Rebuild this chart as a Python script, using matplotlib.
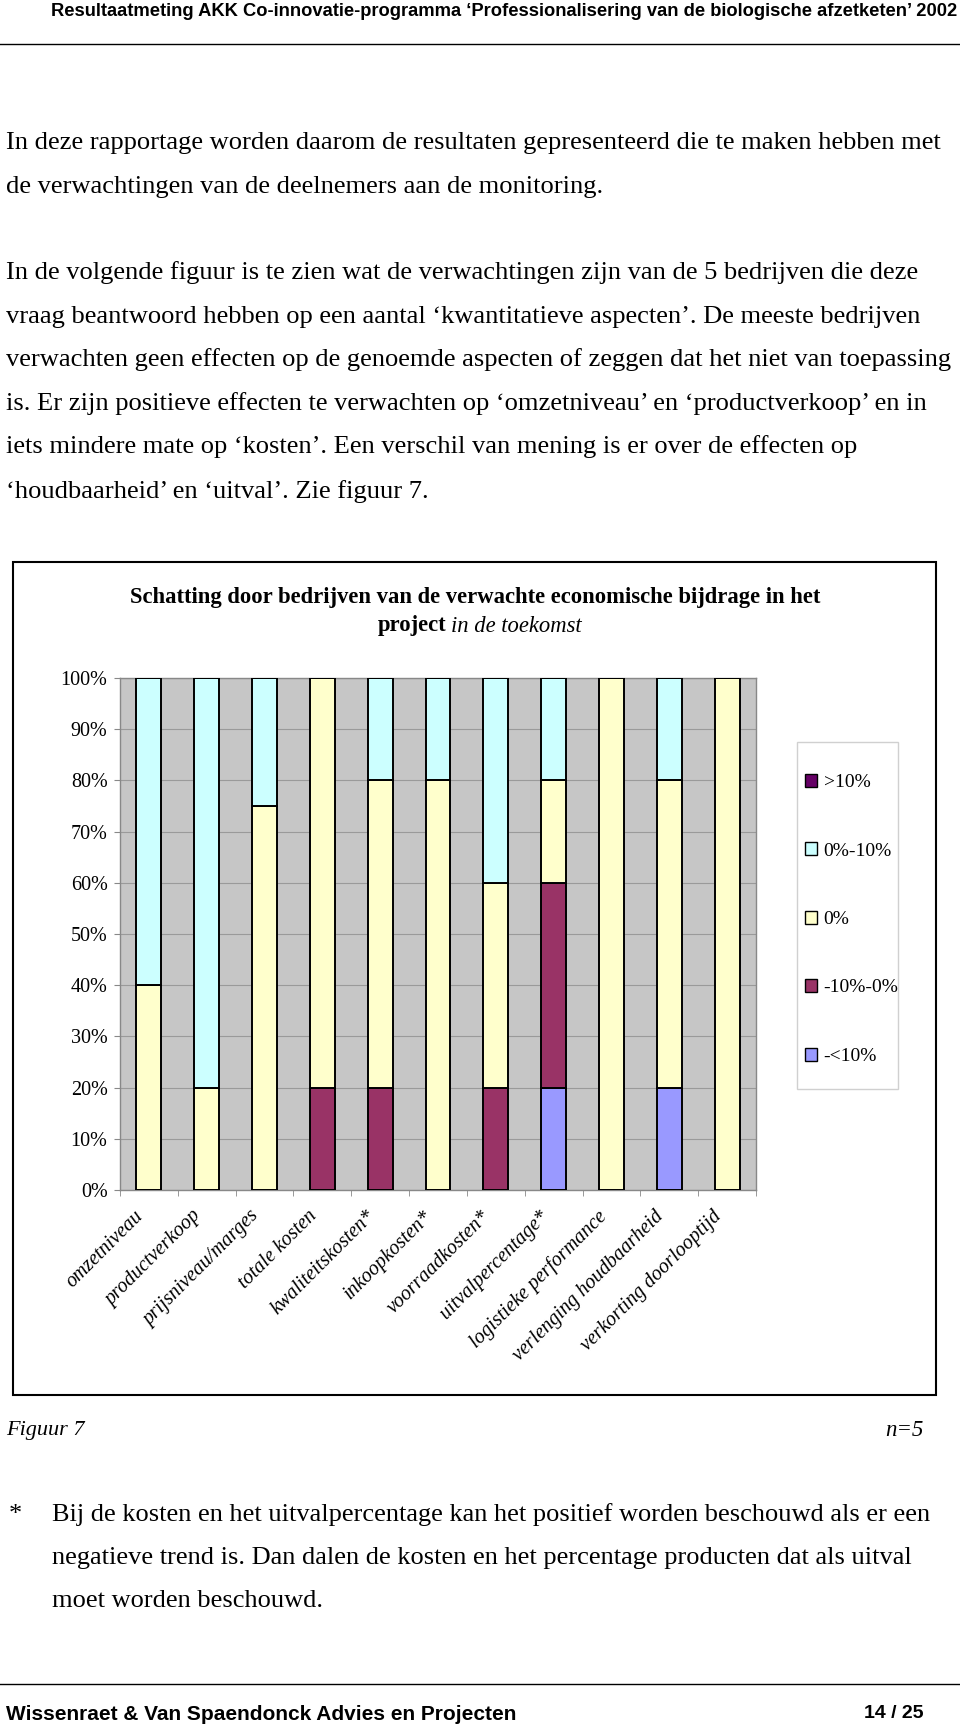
import numpy as np
import matplotlib
matplotlib.use('Agg')
import matplotlib.pyplot as plt
import matplotlib.transforms as mtransforms
from matplotlib.patches import Rectangle, Patch
from matplotlib.lines import Line2D

# --- data ---
categories = ['omzetniveau', 'productverkoop', 'prijsniveau/marges', 'totale kosten',
              'kwaliteitskosten*', 'inkoopkosten*', 'voorraadkosten*', 'uitvalpercentage*',
              'logistieke performance', 'verlenging houdbaarheid', 'verkorting doorlooptijd']
# stacked from bottom to top (percentage of companies)
min_meer10 = [0, 0, 0, 0, 0, 0, 0, 20, 0, 20, 0]      # -<10%
min10_0 = [0, 0, 0, 20, 20, 0, 20, 40, 0, 0, 0]       # -10%-0%
nul = [40, 20, 75, 80, 60, 80, 40, 20, 100, 60, 100]  # 0%
nul_10 = [60, 80, 25, 0, 20, 20, 40, 20, 0, 20, 0]    # 0%-10%
meer10 = [0, 0, 0, 0, 0, 0, 0, 0, 0, 0, 0]            # >10%

series_labels = ['-<10%', '-10%-0%', '0%', '0%-10%', '>10%']
series_colors = ['#9999FF', '#993366', '#FFFFCC', '#CCFFFF', '#660066']
y_ticks = [0, 10, 20, 30, 40, 50, 60, 70, 80, 90, 100]

SERIF = 'Liberation Serif'
SANS = 'Liberation Sans'

W, H = 960, 1729
fig = plt.figure(figsize=(W / 100, H / 100), dpi=100)


def fx(px):
    return px / W


def fy(py):
    return 1 - py / H


# --- page header ---
fig.text(fx(957), fy(12), 'Resultaatmeting AKK Co-innovatie-programma \u2018Professionalisering van de biologische afzetketen\u2019 2002',
         ha='right', va='center', family=SANS, fontweight='bold', fontsize=13.25)
fig.add_artist(Line2D([0, 1], [fy(44), fy(44)], color='black', lw=1))

# --- body text ---
body = [
    (143, 'In deze rapportage worden daarom de resultaten gepresenteerd die te maken hebben met'),
    (187, 'de verwachtingen van de deelnemers aan de monitoring.'),
    (273, 'In de volgende figuur is te zien wat de verwachtingen zijn van de 5 bedrijven die deze'),
    (317, 'vraag beantwoord hebben op een aantal \u2018kwantitatieve aspecten\u2019. De meeste bedrijven'),
    (360, 'verwachten geen effecten op de genoemde aspecten of zeggen dat het niet van toepassing'),
    (404, 'is. Er zijn positieve effecten te verwachten op \u2018omzetniveau\u2019 en \u2018productverkoop\u2019 en in'),
    (447, 'iets mindere mate op \u2018kosten\u2019. Een verschil van mening is er over de effecten op'),
    (492, '\u2018houdbaarheid\u2019 en \u2018uitval\u2019. Zie figuur 7.'),
]
for yy, line in body:
    fig.text(fx(6), fy(yy), line, ha='left', va='center', family=SERIF, fontsize=19.05)

# --- chart frame ---
fig.add_artist(Rectangle((fx(13), fy(1395)), fx(936) - fx(13), (1395 - 562) / H,
                         transform=fig.transFigure, fill=False, edgecolor='black', lw=1.5))

fig.text(fx(475), fy(598), 'Schatting door bedrijven van de verwachte economische bijdrage in het',
         ha='center', va='center', family=SERIF, fontweight='bold', fontsize=16.3)
fig.text(fx(446), fy(626), 'project', ha='right', va='center', family=SERIF,
         fontweight='bold', fontsize=16.3)
fig.text(fx(451), fy(626), 'in de toekomst', ha='left', va='center', family=SERIF,
         fontstyle='italic', fontsize=16.3)

# --- stacked bars ---
ax = fig.add_axes([fx(120), fy(1190), fx(756) - fx(120), (1190 - 678) / H])
ax.set_facecolor('#C6C6C6')
x = np.arange(len(categories))
bottom = np.zeros(len(categories))
for vals, lab, col in zip([min_meer10, min10_0, nul, nul_10, meer10], series_labels, series_colors):
    vals = np.array(vals, dtype=float)
    ax.bar(x, vals, width=0.43, bottom=bottom, color=col, edgecolor='black',
           linewidth=1.4, zorder=3)
    bottom += vals

ax.set_xlim(-0.5, len(categories) - 0.5)
ax.set_ylim(0, 100)
ax.set_yticks(y_ticks)
ax.set_yticklabels([f'{v}%' for v in y_ticks], family=SERIF, fontsize=14.5)
ax.yaxis.grid(True, color='#9A9A9A', lw=0.8, zorder=0)
ax.set_axisbelow(True)
for s in ax.spines.values():
    s.set_color('#888888')
    s.set_linewidth(1)
ax.tick_params(axis='y', length=4, color='#888888', pad=5)

ax.set_xticks(x)
ax.set_xticklabels(categories, rotation=45, ha='right', va='center',
                   rotation_mode='anchor', family=SERIF, fontstyle='italic', fontsize=14.5)
ax.set_xticks(np.arange(-0.5, len(categories)), minor=True)
ax.tick_params(axis='x', which='major', length=0, pad=17)
ax.tick_params(axis='x', which='minor', length=4, color='#888888')
offset = mtransforms.ScaledTranslation(-8 / 100, 0, fig.dpi_scale_trans)
for lab in ax.get_xticklabels():
    lab.set_transform(lab.get_transform() + offset)

# --- legend ---
fig.add_artist(Rectangle((fx(797), fy(1089)), fx(898) - fx(797), (1089 - 742) / H,
                         transform=fig.transFigure, fill=False, edgecolor='#D0D0D0', lw=1))
handles = [Patch(facecolor=c, edgecolor='black', lw=1) for c in series_colors[::-1]]
fig.legend(handles, series_labels[::-1], loc='upper left',
           bbox_to_anchor=(fx(795), fy(764)), frameon=False, borderpad=0,
           prop={'family': SERIF, 'size': 14}, handlelength=0.65, handleheight=0.65,
           handletextpad=0.32, labelspacing=2.63)

# --- captions and footnote ---
fig.text(fx(6), fy(1431), 'Figuur 7', ha='left', va='center', family=SERIF,
         fontstyle='italic', fontsize=16)
fig.text(fx(924), fy(1431), 'n=5', ha='right', va='center', family=SERIF,
         fontstyle='italic', fontsize=16.5)

fig.text(fx(9), fy(1515), '*', ha='left', va='center', family=SERIF, fontsize=19)
notes = [
    (1515, 'Bij de kosten en het uitvalpercentage kan het positief worden beschouwd als er een'),
    (1558, 'negatieve trend is. Dan dalen de kosten en het percentage producten dat als uitval'),
    (1601, 'moet worden beschouwd.'),
]
for yy, line in notes:
    fig.text(fx(52), fy(yy), line, ha='left', va='center', family=SERIF, fontsize=19)

# --- page footer ---
fig.add_artist(Line2D([0, 1], [fy(1684), fy(1684)], color='black', lw=1))
fig.text(fx(6), fy(1714), 'Wissenraet & Van Spaendonck Advies en Projecten', ha='left',
         va='center', family=SANS, fontweight='bold', fontsize=15)
fig.text(fx(924), fy(1714), '14 / 25', ha='right', va='center', family=SANS,
         fontweight='bold', fontsize=14)

fig.savefig('out.png', dpi=100)
